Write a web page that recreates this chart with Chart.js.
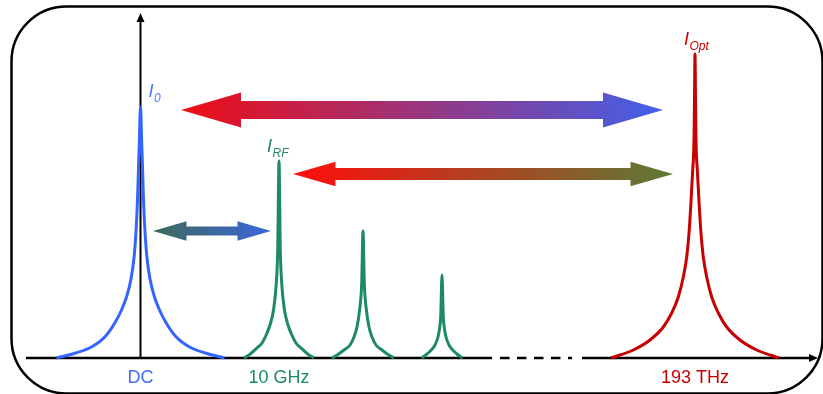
<!DOCTYPE html>
<html>
<head>
<meta charset="utf-8">
<script src="https://cdn.jsdelivr.net/npm/chart.js@4/dist/chart.umd.min.js"></script>
<style>
  html, body { margin: 0; padding: 0; background: #fff; }
</style>
</head>
<body>
<canvas id="spectrumChart" width="823" height="394"></canvas>
<script>
// frequency axis labels and where they sit
const tickLabels = ['DC', '10 GHz', '193 THz'];
const tickValues = [140.5, 279, 695];

// peaks: centre, then half profile (offset from centre -> height)
const peakCenters = [140.5, 279, 363, 442, 695];
const peakOffsets = [
    [0, 1.2, 2.4, 3, 4.4, 6.4, 9.7, 14, 19, 25.7, 35.7, 49, 65.7, 84],
    [0, 1.3, 2.7, 5.5, 8.7, 12, 17, 22, 28.7, 35],
    [0, 1.3, 3.4, 6, 9, 13, 19, 25, 31],
    [0, 1.3, 2.5, 4, 7, 10.7, 15, 20.5],
    [0, 0.5, 1, 2.3, 4.3, 6, 8.3, 11.7, 16.7, 23.3, 31.7, 45, 61.7, 84]
];
const peakHeights = [
    [251, 215, 178, 158, 128, 101, 78, 61, 48, 35, 21, 11, 4.7, 0],
    [197, 108, 75, 48, 34, 25, 15, 10, 4, 0],
    [127, 75, 48, 31, 21, 13, 8, 3.5, 0],
    [83, 41, 29, 21, 13, 8, 4, 0],
    [304, 260, 218, 188, 151, 125, 101, 81, 61, 45, 31, 18, 8, 0]
];
const peakNames = ['0', 'RF', null, null, 'Opt'];

// double arrows between the bands
const arrowFrom = [181, 293, 153];
const arrowTo = [663, 673, 271];
const arrowLevel = [248, 184, 127];

// broken stretch of the frequency axis
const axisBreak = [492, 582];

// styles
const peakColors = ['#3366ff', '#1e8a64', '#1e8a64', '#1e8a64', '#c80000'];
const labelColors = ['#4a78ff', '#1e8a64', null, null, '#c80000'];
const tickColors = ['#3f6cff', '#1e8a64', '#c80000'];
const arrowColors = [['#ef0c14', '#4260ea'], ['#ff0d0d', '#5d7a36'], ['#3e6a58', '#3b66de']];
const arrowSizes = [
    { shaft: 18, head: 17.5, len: 60 },
    { shaft: 12, head: 12.2, len: 42.5 },
    { shaft: 9, head: 9.8, len: 33.5 }
];
const labelShift = [{ dx: 8, dy: -10 }, { dx: -12, dy: -9 }, null, null, { dx: -11, dy: -9 }];
const FONT = '"Liberation Sans", Arial, sans-serif';

const datasets = peakCenters.map(function(c, i) {
    const pts = [];
    const offs = peakOffsets[i], hs = peakHeights[i];
    for (let k = offs.length - 1; k > 0; k--) pts.push({ x: c - offs[k], y: hs[k] });
    for (let k = 0; k < offs.length; k++) pts.push({ x: c + offs[k], y: hs[k] });
    return {
        data: pts,
        borderColor: peakColors[i],
        borderWidth: 3,
        pointRadius: 0,
        cubicInterpolationMode: 'monotone',
        fill: false,
        clip: false
    };
});

function arrowHead(ctx, x, y, dir, len, half) {
    ctx.beginPath();
    ctx.moveTo(x, y);
    ctx.lineTo(x - dir * len, y - half);
    ctx.lineTo(x - dir * len, y + half);
    ctx.closePath();
    ctx.fill();
}

const diagramPlugin = {
    id: 'diagram',
    beforeDatasetsDraw(chart) {
        const ctx = chart.ctx;
        const xs = chart.scales.x, ys = chart.scales.y;
        const y0 = ys.getPixelForValue(0);
        ctx.save();
        // rounded frame
        ctx.strokeStyle = '#000';
        ctx.lineWidth = 2.5;
        ctx.beginPath();
        ctx.roundRect(11.5, 6.5, 811, 387, 55);
        ctx.stroke();

        // frequency axis, broken in the middle
        ctx.lineWidth = 2.5;
        ctx.beginPath();
        ctx.moveTo(26, y0);
        ctx.lineTo(xs.getPixelForValue(axisBreak[0]), y0);
        ctx.moveTo(xs.getPixelForValue(axisBreak[1]), y0);
        ctx.lineTo(811, y0);
        ctx.stroke();
        ctx.setLineDash([9.5, 7.5]);
        ctx.beginPath();
        ctx.moveTo(xs.getPixelForValue(axisBreak[0]) + 8, y0);
        ctx.lineTo(xs.getPixelForValue(axisBreak[1]) - 10, y0);
        ctx.stroke();
        ctx.setLineDash([]);
        ctx.fillStyle = '#000';
        arrowHead(ctx, 818, y0, 1, 9, 4);

        // intensity axis at DC
        const xa = xs.getPixelForValue(tickValues[0]);
        ctx.lineWidth = 2;
        ctx.beginPath();
        ctx.moveTo(xa, y0);
        ctx.lineTo(xa, 20);
        ctx.stroke();
        ctx.beginPath();
        ctx.moveTo(xa, 13);
        ctx.lineTo(xa - 4, 22);
        ctx.lineTo(xa + 4, 22);
        ctx.closePath();
        ctx.fill();
        ctx.restore();
    },
    afterDatasetsDraw(chart) {
        const ctx = chart.ctx;
        const xs = chart.scales.x, ys = chart.scales.y;
        ctx.save();
        // gradient double arrows
        arrowFrom.forEach(function(a, i) {
            const x1 = xs.getPixelForValue(a), x2 = xs.getPixelForValue(arrowTo[i]);
            const y = ys.getPixelForValue(arrowLevel[i]);
            const s = arrowSizes[i];
            const g = ctx.createLinearGradient(x1, 0, x2, 0);
            g.addColorStop(0, arrowColors[i][0]);
            g.addColorStop(1, arrowColors[i][1]);
            ctx.fillStyle = g;
            ctx.beginPath();
            ctx.moveTo(x1, y);
            ctx.lineTo(x1 + s.len, y - s.head);
            ctx.lineTo(x1 + s.len, y - s.shaft / 2);
            ctx.lineTo(x2 - s.len, y - s.shaft / 2);
            ctx.lineTo(x2 - s.len, y - s.head);
            ctx.lineTo(x2, y);
            ctx.lineTo(x2 - s.len, y + s.head);
            ctx.lineTo(x2 - s.len, y + s.shaft / 2);
            ctx.lineTo(x1 + s.len, y + s.shaft / 2);
            ctx.lineTo(x1 + s.len, y + s.head);
            ctx.closePath();
            ctx.fill();
        });

        // peak names I_0, I_RF, I_Opt
        ctx.textBaseline = 'alphabetic';
        ctx.textAlign = 'left';
        peakNames.forEach(function(name, i) {
            if (!name) return;
            const top = peakHeights[i][0];
            const x = xs.getPixelForValue(peakCenters[i]) + labelShift[i].dx;
            const y = ys.getPixelForValue(top) + labelShift[i].dy;
            ctx.fillStyle = labelColors[i];
            ctx.font = 'italic 18px ' + FONT;
            ctx.fillText('I', x, y);
            const w = ctx.measureText('I').width;
            ctx.font = 'italic 12px ' + FONT;
            ctx.fillText(name, x + w + 0.5, y + 5);
        });
        ctx.restore();
    }
};

new Chart(document.getElementById('spectrumChart').getContext('2d'), {
    type: 'line',
    data: { datasets: datasets },
    options: {
        responsive: false,
        animation: false,
        events: [],
        layout: { padding: 0 },
        plugins: { legend: { display: false }, tooltip: { enabled: false } },
        scales: {
            x: {
                type: 'linear',
                min: 0,
                max: 823,
                position: 'bottom',
                grid: { display: false },
                border: { display: false },
                afterBuildTicks: function(axis) {
                    axis.ticks = tickValues.map(function(v) { return { value: v }; });
                },
                afterFit: function(axis) { axis.height = 36; },
                ticks: {
                    autoSkip: false,
                    maxRotation: 0,
                    padding: 1,
                    font: { size: 18, family: FONT },
                    color: function(c) { return tickColors[c.index]; },
                    callback: function(v, i) { return tickLabels[i]; }
                }
            },
            y: { display: false, min: 0, max: 358 }
        }
    },
    plugins: [diagramPlugin]
});
</script>
</body>
</html>
